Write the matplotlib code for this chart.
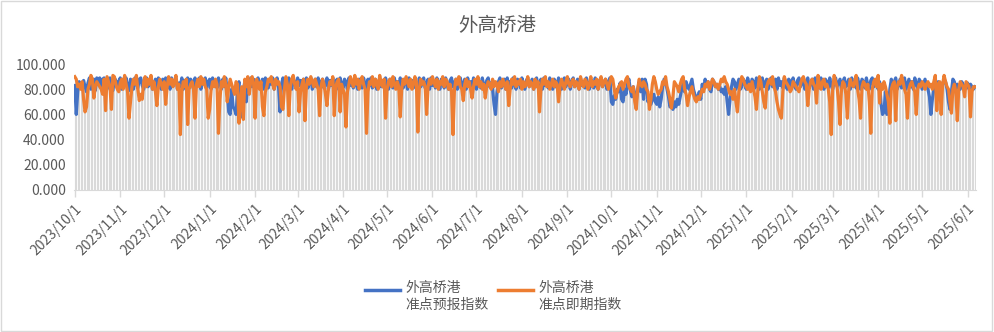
import numpy as np
import pandas as pd
import matplotlib
matplotlib.use("Agg")
import matplotlib.pyplot as plt
import matplotlib.dates as mdates
from matplotlib.patches import Rectangle
from matplotlib.lines import Line2D

plt.rcParams['font.family'] = ['Noto Sans CJK SC', 'DejaVu Sans']

title = "外高桥港"
series_names = ["外高桥港\n准点预报指数", "外高桥港\n准点即期指数"]
start_date = "2023-10-01"

# 准点预报指数 (daily)
forecast = [
    83, 60, 78, 86, 84, 80, 87, 82, 78, 85, 89, 80, 86, 88, 79, 89, 84, 89, 81, 88,
    89, 82, 80, 88, 89, 84, 79, 89, 87, 81, 86, 89, 80, 88, 84, 89, 82, 79, 88, 86,
    80, 89, 85, 81, 88, 89, 83, 80, 87, 89, 82, 86, 89, 80, 84, 88, 81, 89, 86, 80,
    88, 84, 89, 81, 87, 80, 89, 83, 86, 89, 80, 85, 82, 89, 80, 87, 84, 89, 81, 88,
    86, 80, 89, 82, 85, 89, 80, 88, 84, 89, 81, 86, 88, 80, 89, 84, 87, 81, 89, 85,
    80, 88, 82, 89, 78, 62, 60, 80, 66, 64, 60, 78, 86, 60, 58, 80, 86, 70, 88, 84,
    89, 82, 88, 80, 86, 89, 81, 84, 88, 80, 89, 85, 81, 88, 84, 89, 80, 86, 89, 82,
    62, 84, 89, 80, 87, 82, 89, 84, 80, 88, 86, 81, 89, 83, 87, 80, 88, 84, 89, 81,
    86, 89, 80, 84, 88, 82, 89, 80, 86, 88, 81, 84, 89, 80, 87, 83, 89, 81, 86, 88,
    80, 89, 84, 81, 88, 86, 80, 89, 83, 87, 81, 89, 84, 80, 88, 86, 81, 89, 84, 80,
    88, 83, 89, 81, 86, 88, 80, 84, 89, 82, 87, 81, 89, 84, 80, 88, 85, 81, 89, 83,
    86, 80, 89, 84, 81, 88, 86, 80, 89, 83, 87, 81, 88, 84, 80, 89, 82, 86, 89, 81,
    84, 88, 80, 89, 83, 86, 81, 89, 84, 80, 88, 86, 81, 89, 83, 80, 87, 89, 82, 85,
    88, 80, 86, 89, 82, 84, 88, 80, 89, 83, 86, 81, 89, 84, 80, 88, 86, 81, 89, 83,
    80, 87, 89, 82, 85, 80, 68, 60, 78, 86, 89, 81, 84, 88, 80, 89, 83, 86, 81, 89,
    84, 80, 88, 86, 81, 89, 83, 80, 87, 89, 82, 85, 88, 80, 86, 89, 82, 84, 88, 80,
    89, 83, 86, 81, 89, 84, 80, 88, 86, 81, 89, 83, 80, 87, 89, 82, 85, 88, 80, 86,
    89, 82, 84, 88, 80, 89, 83, 86, 81, 89, 84, 80, 88, 86, 81, 89, 83, 80, 87, 89,
    82, 85, 88, 80, 86, 89, 70, 68, 75, 72, 80, 78, 85, 72, 70, 80, 76, 84, 88, 79,
    74, 82, 76, 70, 80, 86, 78, 88, 72, 88, 84, 70, 74, 68, 72, 76, 70, 68, 74, 66,
    72, 82, 88, 86, 80, 74, 66, 68, 64, 70, 66, 72, 68, 74, 80, 84, 78, 86, 82, 80,
    84, 88, 80, 76, 72, 74, 78, 72, 84, 80, 88, 82, 86, 80, 78, 88, 86, 82, 84, 80,
    82, 78, 80, 76, 82, 70, 60, 72, 82, 88, 86, 80, 84, 88, 80, 82, 88, 86, 80, 89,
    84, 80, 88, 86, 81, 89, 83, 80, 87, 89, 82, 85, 88, 80, 86, 89, 82, 84, 88, 80,
    89, 83, 86, 81, 89, 84, 80, 88, 86, 81, 89, 83, 80, 87, 89, 82, 85, 88, 80, 86,
    89, 82, 84, 88, 80, 89, 83, 86, 81, 89, 84, 80, 88, 86, 81, 89, 83, 80, 87, 89,
    82, 85, 88, 80, 86, 89, 82, 84, 88, 80, 89, 83, 86, 81, 89, 84, 80, 88, 86, 81,
    89, 83, 80, 87, 89, 82, 85, 88, 80, 86, 68, 60, 62, 78, 60, 64, 80, 88, 82, 86,
    89, 80, 84, 88, 81, 86, 89, 80, 84, 88, 82, 86, 80, 89, 84, 81, 88, 86, 80, 84,
    88, 82, 80, 74, 60, 72, 80, 84, 80, 86, 82, 80, 84, 88, 86, 80, 70, 64, 78, 88,
    86, 80, 84, 82, 80, 86, 84, 80, 82, 85, 80, 84, 82, 80, 82,
]

# 准点即期指数 (daily)
spot = [
    90, 88, 82, 84, 80, 86, 72, 62, 66, 80, 84, 91, 88, 73, 82, 86, 84, 82, 80, 76,
    88, 63, 90, 86, 82, 64, 91, 90, 84, 80, 78, 85, 88, 80, 91, 84, 78, 57, 70, 82,
    88, 84, 91, 80, 71, 76, 72, 86, 90, 82, 88, 84, 91, 80, 86, 78, 67, 82, 88, 84,
    80, 86, 68, 82, 90, 84, 88, 82, 86, 91, 80, 84, 44, 78, 86, 82, 88, 52, 80, 84,
    86, 80, 57, 84, 88, 82, 90, 84, 88, 82, 80, 57, 64, 80, 86, 82, 88, 84, 45, 72,
    86, 82, 90, 84, 70, 82, 88, 84, 80, 76, 86, 84, 53, 70, 82, 56, 88, 82, 90, 76,
    86, 90, 84, 57, 88, 84, 80, 86, 66, 59, 78, 82, 88, 86, 90, 84, 80, 88, 84, 86,
    82, 66, 64, 80, 90, 84, 59, 82, 88, 91, 84, 80, 86, 62, 78, 84, 88, 55, 82, 88,
    84, 90, 86, 82, 88, 84, 80, 59, 82, 88, 84, 76, 67, 80, 86, 84, 90, 59, 82, 86,
    88, 62, 84, 80, 76, 50, 78, 84, 90, 86, 82, 91, 84, 88, 80, 86, 90, 84, 80, 45,
    78, 86, 84, 90, 82, 88, 86, 80, 91, 84, 82, 88, 57, 80, 86, 88, 82, 90, 84, 80,
    86, 82, 58, 80, 88, 84, 90, 86, 82, 88, 80, 84, 90, 86, 46, 80, 88, 84, 86, 82,
    60, 82, 88, 84, 90, 86, 82, 88, 80, 86, 84, 90, 82, 88, 86, 80, 84, 78, 44, 80,
    88, 84, 90, 82, 80, 71, 84, 88, 82, 86, 80, 73, 82, 88, 84, 90, 82, 86, 80, 84,
    73, 82, 86, 84, 80, 88, 82, 86, 84, 78, 86, 82, 88, 84, 80, 86, 67, 80, 88, 84,
    90, 82, 86, 84, 88, 80, 86, 82, 84, 90, 82, 86, 84, 80, 88, 82, 86, 62, 80, 88,
    84, 90, 82, 86, 80, 84, 88, 82, 86, 84, 70, 82, 88, 84, 80, 86, 90, 84, 82, 86,
    88, 82, 86, 84, 80, 90, 84, 82, 88, 86, 80, 84, 90, 82, 86, 84, 88, 80, 86, 90,
    82, 86, 88, 84, 80, 86, 90, 88, 80, 73, 78, 82, 84, 86, 80, 84, 88, 90, 82, 80,
    78, 82, 70, 64, 80, 88, 84, 82, 86, 84, 80, 78, 64, 72, 84, 90, 86, 80, 76, 78,
    80, 86, 84, 90, 82, 78, 72, 65, 74, 86, 84, 82, 78, 84, 88, 90, 80, 76, 67, 74,
    78, 82, 76, 72, 70, 74, 72, 76, 80, 78, 84, 82, 86, 80, 84, 88, 86, 82, 84, 80,
    84, 88, 86, 90, 86, 84, 80, 76, 78, 72, 80, 70, 62, 78, 84, 90, 88, 84, 82, 80,
    84, 78, 86, 80, 74, 64, 80, 90, 86, 78, 70, 65, 82, 86, 88, 84, 90, 82, 78, 70,
    64, 60, 57, 78, 90, 86, 84, 82, 78, 80, 86, 84, 82, 80, 78, 84, 88, 90, 86, 84,
    67, 80, 86, 88, 84, 82, 69, 91, 84, 80, 86, 88, 82, 84, 80, 70, 44, 80, 91, 86,
    82, 70, 52, 80, 86, 84, 76, 57, 80, 88, 84, 82, 86, 91, 80, 72, 57, 82, 86, 84,
    80, 84, 70, 45, 80, 86, 88, 82, 91, 69, 84, 80, 86, 82, 76, 70, 53, 80, 84, 86,
    55, 82, 86, 84, 91, 86, 80, 76, 57, 80, 84, 86, 82, 78, 60, 80, 84, 82, 86, 84,
    80, 84, 86, 82, 84, 80, 86, 91, 63, 84, 86, 60, 84, 91, 86, 82, 80, 70, 61, 80,
    84, 78, 55, 80, 86, 84, 82, 74, 86, 84, 82, 58, 78, 82, 82,
]

blue = "#4472C4"
orange = "#ED7D31"
grey_txt = "#595959"

dates = pd.date_range(start_date, periods=len(forecast), freq="D")
f = np.array(forecast, dtype=float)
s = np.array(spot, dtype=float)

fig = plt.figure(figsize=(9.94, 3.32), dpi=100)
ax = fig.add_axes([0.0745, 0.428, 0.907, 0.379])

# Excel style drop lines from the highest point down to the axis
ax.vlines(dates, 0, np.maximum(f, s), color="#d9d9d9", linewidth=0.8, zorder=1)
ax.plot(dates, f, color=blue, linewidth=2.3, zorder=3)
ax.plot(dates, s, color=orange, linewidth=2.3, zorder=4)

ax.set_ylim(0, 100)
ax.set_yticks(np.arange(0, 101, 20))
ax.set_yticklabels([f"{v:.3f}" for v in np.arange(0, 101, 20)])
ax.set_xlim(dates[0] - pd.Timedelta(hours=12), dates[-1] + pd.Timedelta(hours=12))

ax.xaxis.set_major_locator(mdates.MonthLocator(bymonthday=1))
ax.xaxis.set_major_formatter(mdates.DateFormatter("%Y/%-m/%-d"))
plt.setp(ax.get_xticklabels(), rotation=45, ha="right", rotation_mode="anchor")

for side in ["top", "right", "left"]:
    ax.spines[side].set_visible(False)
ax.spines["bottom"].set_color("#d9d9d9")
ax.tick_params(axis="x", colors="#d9d9d9", labelcolor=grey_txt, labelsize=10,
               length=5, width=1)
ax.tick_params(axis="y", length=0, labelcolor=grey_txt, labelsize=10, pad=6)

fig.text(0.5, 0.925, title, ha="center", va="center", fontsize=14, color=grey_txt)

# legend: handle sits on the first line of a two-line label, like Excel
W, H = 994.0, 332.0
for (x0, x1, tx), color, name in zip([(365, 400, 405), (498, 533, 538)], [blue, orange], series_names):
    fig.add_artist(Line2D([x0 / W, x1 / W], [1 - 290 / H, 1 - 290 / H], color=color,
                          linewidth=2.5, transform=fig.transFigure))
    fig.text(tx / W, 1 - 281 / H, name, ha="left", va="top", fontsize=10,
             color=grey_txt, linespacing=1.25)

fig.patches.append(Rectangle((0.001, 0.002), 0.997, 0.995, transform=fig.transFigure,
                             fill=False, edgecolor="#d9d9d9", linewidth=1))

fig.savefig("out.png", dpi=100)
